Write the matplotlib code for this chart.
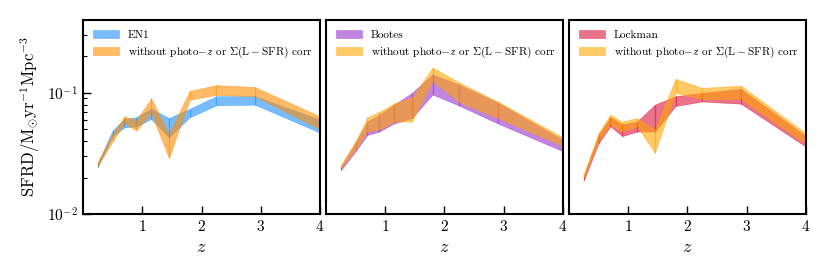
import numpy as np
import matplotlib
matplotlib.use("Agg")
import matplotlib.pyplot as plt

plt.rcParams["font.family"] = "serif"
plt.rcParams["font.serif"] = ["cmr10", "DejaVu Serif"]
plt.rcParams["mathtext.fontset"] = "cm"
plt.rcParams["axes.formatter.use_mathtext"] = True

z = [0.25, 0.5, 0.7, 0.9, 1.15, 1.45, 1.8, 2.25, 2.9, 4.0]

fields = ["EN1", "Bootes", "Lockman"]

en1_lo = [0.0245, 0.044, 0.052, 0.053, 0.061, 0.043, 0.063, 0.079, 0.080, 0.047]
en1_hi = [0.0265, 0.049, 0.061, 0.063, 0.074, 0.062, 0.074, 0.094, 0.094, 0.060]
en1_nc_lo = [0.025, 0.040, 0.056, 0.049, 0.068, 0.029, 0.088, 0.096, 0.094, 0.050]
en1_nc_hi = [0.027, 0.046, 0.064, 0.060, 0.090, 0.046, 0.104, 0.116, 0.112, 0.064]

boo_lo = [0.023, 0.033, 0.045, 0.048, 0.056, 0.062, 0.097, 0.0785, 0.056, 0.033]
boo_hi = [0.0245, 0.039, 0.058, 0.066, 0.080, 0.100, 0.142, 0.117, 0.083, 0.041]
boo_nc_lo = [0.024, 0.034, 0.048, 0.050, 0.058, 0.058, 0.125, 0.084, 0.062, 0.0365]
boo_nc_hi = [0.0255, 0.040, 0.063, 0.070, 0.082, 0.092, 0.162, 0.122, 0.085, 0.043]

lock_lo = [0.019, 0.0385, 0.053, 0.044, 0.048, 0.048, 0.078, 0.085, 0.0815, 0.036]
lock_hi = [0.0205, 0.045, 0.063, 0.055, 0.058, 0.080, 0.094, 0.100, 0.108, 0.044]
lock_nc_lo = [0.020, 0.040, 0.055, 0.048, 0.053, 0.032, 0.100, 0.089, 0.089, 0.038]
lock_nc_hi = [0.0215, 0.047, 0.066, 0.058, 0.062, 0.050, 0.131, 0.110, 0.115, 0.0466]

bands = [
    (en1_lo, en1_hi, en1_nc_lo, en1_nc_hi),
    (boo_lo, boo_hi, boo_nc_lo, boo_nc_hi),
    (lock_lo, lock_hi, lock_nc_lo, lock_nc_hi),
]
main_colors = ["dodgerblue", "darkorchid", "crimson"]
nc_colors = ["darkorange", "orange", "orange"]

nc_label = r"without photo$-z$ or $\Sigma(\rm L-SFR)$ corr"


def draw_band(ax, lo, hi, color, label):
    ax.fill_between(z, lo, hi, color=color, alpha=0.6, lw=0.4, label=label)
    # faint edges at each redshift bin
    ax.vlines(z, lo, hi, color=color, lw=0.9, alpha=0.6)


fig, axes = plt.subplots(1, 3, figsize=(8.3, 2.77), dpi=100, sharey=True)
fig.subplots_adjust(left=0.1, right=0.971, bottom=0.227, top=0.928, wspace=0.025)

for i, ax in enumerate(axes):
    lo, hi, nlo, nhi = bands[i]
    draw_band(ax, lo, hi, main_colors[i], fields[i])
    draw_band(ax, nlo, nhi, nc_colors[i], nc_label)

    ax.set_yscale("log")
    ax.set_ylim(0.01, 0.4)
    ax.set_xlim(0, 4)
    ax.set_xticks([1, 2, 3, 4])
    ax.set_xlabel(r"$z$", fontsize=13)
    ax.tick_params(which="both", direction="in", labelsize=11)
    ax.tick_params(which="major", length=6, width=1)
    ax.tick_params(which="minor", length=3, width=0.8)
    for s in ax.spines.values():
        s.set_linewidth(1.5)
    if i > 0:
        ax.tick_params(axis="y", which="both", left=False)
    ax.legend(loc="upper left", fontsize=8.1, frameon=False,
              handlelength=2.3, borderaxespad=0.5, labelspacing=0.45)

axes[0].set_ylabel(r"$\rm SFRD/M_{\odot}yr^{-1}Mpc^{-3}$", fontsize=12)

fig.savefig("out.png", dpi=100)
